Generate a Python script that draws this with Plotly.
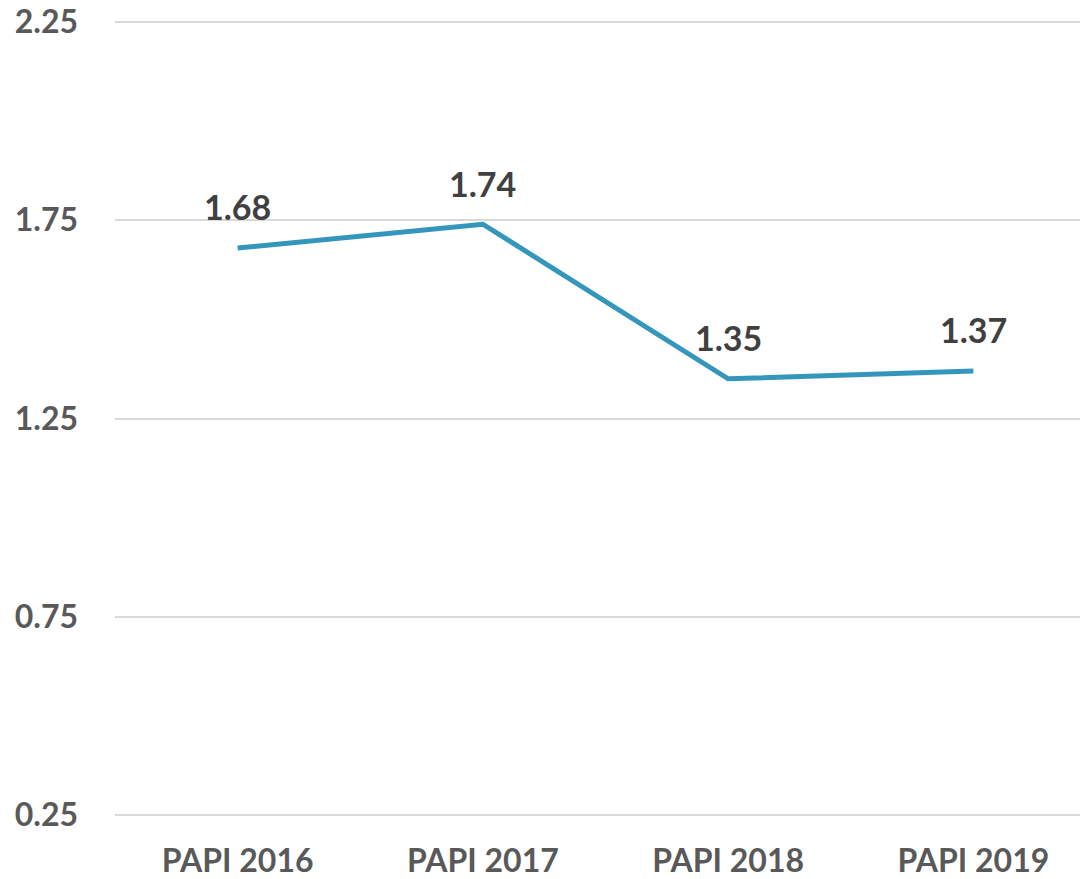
import plotly.graph_objects as go

categories = ["PAPI 2016", "PAPI 2017", "PAPI 2018", "PAPI 2019"]
values = [1.68, 1.74, 1.35, 1.37]
y_ticks = [0.25, 0.75, 1.25, 1.75, 2.25]

line_color = "#3596BD"
font_family = "Lato"

fig = go.Figure()
fig.add_trace(go.Scatter(
    x=categories, y=values, mode="lines",
    line=dict(color=line_color, width=5),
    hoverinfo="skip",
))

# data labels above each point
for c, v in zip(categories, values):
    fig.add_annotation(
        x=c, y=v, text=f"<b>{v:.2f}</b>", showarrow=False,
        yshift=41, font=dict(family=font_family, size=34, color="#404040"),
    )

# page body adds an 8px margin, so margins are trimmed to compensate
fig.update_layout(
    width=1088, height=879,
    margin=dict(l=107, r=0, t=10, b=68, autoexpand=False),
    paper_bgcolor="white", plot_bgcolor="white",
    showlegend=False,
    font=dict(family=font_family, size=32, color="#595959"),
)
fig.update_xaxes(
    type="category", range=[-0.5, 3.5],
    showgrid=False, zeroline=False, showline=False,
    tickvals=categories, ticktext=[f"<b>{c}</b>" for c in categories],
    ticks="", ticklabelstandoff=20, automargin=False,
    ticklabeloverflow="allow",
)
fig.update_yaxes(
    range=[0.24, 2.26], tickvals=y_ticks,
    ticktext=[f"<b>{t:.2f}</b>" for t in y_ticks],
    showgrid=True, gridcolor="#D9D9D9", gridwidth=2,
    zeroline=False, showline=False, ticks="", ticklabelstandoff=36,
    automargin=False, ticklabeloverflow="allow",
)

fig.write_html("out.html")
